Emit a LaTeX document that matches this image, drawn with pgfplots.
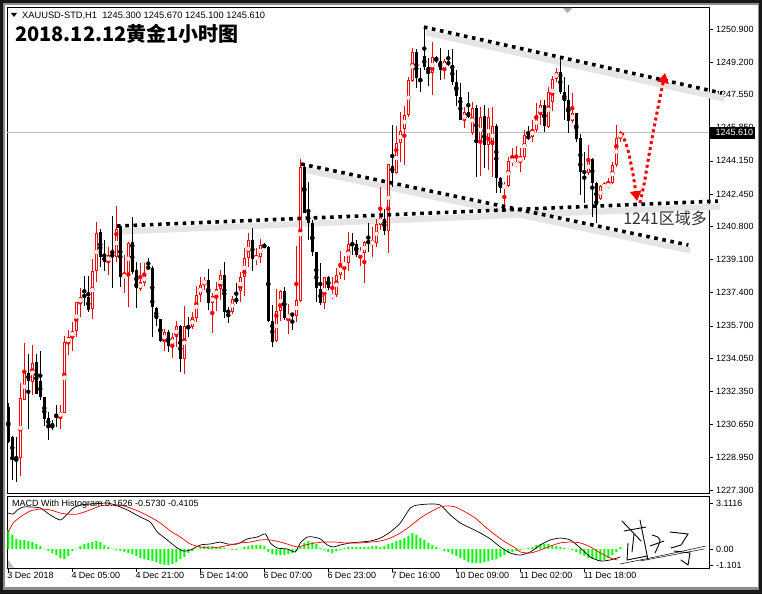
\documentclass[border=0pt]{standalone}
\usepackage{fontspec}
\setmainfont{Liberation Sans}
\newfontfamily\cjk{Noto Sans CJK SC}
\usepackage{pgfplots}
\usepackage{pgfplotstable}
\pgfplotsset{compat=1.18}
\usetikzlibrary{arrows.meta}

\newcommand\lbl{\fontsize{9}{10.5}\selectfont}

% hourly XAUUSD candles: bar index, open, high, low, close
% rising bars (close above open)
\pgfplotstableread{
i o h l c
3 1228.94 1232.78 1228.01 1232.01
4 1231.91 1234.82 1231.91 1233.29
6 1232.83 1234.72 1232.16 1233.80
13 1231.03 1231.65 1230.42 1231.29
14 1231.24 1235.18 1231.24 1234.87
15 1234.82 1235.49 1234.21 1235.13
16 1235.13 1235.90 1234.41 1235.44
17 1235.44 1236.92 1235.13 1236.92
18 1236.87 1237.64 1236.15 1237.18
21 1236.56 1239.12 1236.05 1238.51
22 1238.51 1241.02 1237.95 1240.46
25 1238.97 1239.74 1238.31 1239.33
27 1239.23 1241.84 1238.97 1240.66
29 1238.15 1239.33 1237.38 1238.36
30 1238.36 1240.00 1236.67 1239.94
33 1237.59 1238.92 1237.49 1237.95
34 1237.90 1238.92 1237.74 1238.31
39 1234.87 1235.54 1234.41 1235.39
41 1234.67 1235.34 1234.05 1235.13
42 1235.13 1235.95 1234.62 1235.69
44 1234.00 1236.72 1233.24 1235.69
46 1235.64 1236.41 1235.54 1236.15
47 1236.10 1237.74 1235.90 1237.28
48 1237.28 1238.20 1236.92 1237.79
49 1237.84 1238.20 1237.54 1238.05
51 1236.87 1237.38 1235.34 1237.23
52 1237.23 1237.95 1236.46 1237.59
53 1237.59 1238.56 1237.03 1238.31
56 1236.41 1237.23 1236.31 1237.08
58 1237.49 1238.46 1236.92 1238.20
59 1238.20 1239.69 1237.23 1239.18
60 1239.18 1240.46 1238.71 1240.10
62 1239.12 1239.69 1238.82 1239.23
63 1239.23 1240.15 1238.92 1239.84
67 1234.93 1237.59 1234.87 1236.46
68 1236.46 1237.54 1235.95 1237.49
70 1236.10 1236.82 1235.28 1236.31
72 1236.21 1239.79 1235.90 1237.03
73 1236.97 1244.24 1236.92 1243.83
79 1236.87 1238.20 1236.56 1238.20
81 1237.13 1238.20 1237.08 1237.33
82 1237.28 1238.66 1237.18 1238.31
83 1238.31 1239.53 1238.10 1238.82
84 1238.82 1239.28 1238.05 1238.92
85 1238.92 1240.51 1238.51 1239.89
88 1239.38 1239.74 1238.77 1239.53
89 1239.43 1240.05 1237.90 1239.99
91 1239.94 1240.76 1239.23 1239.99
92 1239.94 1241.17 1239.74 1240.92
93 1240.86 1242.81 1240.61 1241.28
95 1240.56 1243.99 1239.43 1243.99
97 1243.53 1245.94 1243.48 1245.06
98 1245.06 1246.65 1244.09 1245.68
99 1245.78 1246.96 1243.94 1246.50
100 1246.50 1248.44 1246.40 1248.29
101 1248.24 1249.93 1248.19 1249.72
106 1248.65 1250.24 1247.52 1249.47
109 1248.85 1249.36 1248.34 1249.26
114 1246.19 1246.91 1245.83 1246.65
116 1245.58 1247.16 1245.47 1246.86
118 1245.06 1246.91 1243.37 1246.40
120 1244.96 1246.86 1243.68 1246.40
121 1244.96 1246.91 1243.32 1245.94
124 1242.76 1243.07 1241.53 1242.91
125 1242.86 1244.35 1242.81 1244.14
126 1244.09 1244.81 1243.88 1244.24
127 1243.88 1244.91 1243.83 1244.09
128 1244.04 1244.81 1243.58 1244.40
129 1244.35 1245.73 1244.19 1245.47
131 1245.37 1246.24 1245.11 1245.78
132 1245.73 1247.11 1245.63 1246.50
133 1246.50 1247.27 1245.99 1247.01
135 1245.88 1247.93 1245.83 1247.67
136 1247.16 1248.50 1246.70 1248.34
137 1248.34 1248.90 1248.19 1248.70
141 1246.19 1247.62 1246.09 1246.60
145 1243.53 1244.96 1243.43 1244.19
148 1242.20 1242.91 1242.15 1242.86
149 1242.81 1243.07 1242.76 1242.91
150 1242.81 1243.27 1242.76 1243.02
151 1243.02 1244.09 1242.97 1243.94
152 1243.94 1245.99 1243.83 1245.32
153 1245.30 1245.67 1245.10 1245.61
}\bull

% falling bars (close at or below open)
\pgfplotstableread{
i o h l c
0 1231.55 1231.75 1229.70 1229.75
1 1230.01 1230.06 1227.81 1228.94
2 1228.94 1230.01 1227.71 1228.94
5 1233.29 1234.26 1230.42 1232.88
7 1233.85 1234.26 1232.21 1232.21
8 1232.88 1234.41 1231.91 1232.06
9 1232.06 1232.06 1230.57 1230.93
10 1230.98 1231.29 1229.86 1230.62
11 1230.62 1230.88 1230.37 1230.52
12 1231.19 1231.65 1230.52 1231.03
19 1237.28 1238.25 1236.72 1237.18
20 1237.18 1238.25 1236.41 1236.51
23 1240.51 1240.66 1238.71 1239.23
24 1239.28 1240.10 1238.51 1238.97
26 1239.38 1241.33 1237.64 1239.23
28 1240.81 1240.81 1237.69 1238.20
31 1239.99 1241.28 1238.36 1238.46
32 1238.56 1238.97 1236.61 1237.64
35 1238.76 1239.18 1238.61 1238.61
36 1238.66 1238.76 1235.13 1236.67
37 1236.61 1236.67 1235.69 1236.05
38 1236.05 1236.05 1234.87 1234.93
40 1235.39 1235.49 1234.36 1234.67
43 1235.69 1235.74 1233.34 1234.00
45 1235.64 1236.15 1235.13 1235.64
50 1238.05 1238.61 1236.51 1236.87
54 1238.31 1238.97 1236.10 1236.41
55 1236.46 1236.67 1235.85 1236.41
57 1237.13 1237.90 1236.82 1236.92
61 1240.10 1240.71 1238.51 1239.12
64 1239.84 1239.94 1239.69 1239.74
65 1239.74 1239.79 1235.90 1235.95
66 1235.95 1236.77 1234.62 1234.87
69 1237.49 1237.69 1236.00 1236.10
71 1236.31 1236.36 1235.49 1236.26
74 1243.83 1243.99 1241.48 1241.48
75 1241.48 1243.07 1240.10 1240.97
76 1240.97 1241.12 1239.28 1239.48
77 1239.48 1239.48 1236.92 1237.64
78 1237.59 1238.92 1236.77 1236.87
80 1238.20 1238.25 1237.54 1237.64
86 1239.94 1240.46 1239.33 1239.84
87 1239.89 1240.10 1239.23 1239.33
90 1239.99 1240.97 1239.48 1239.99
94 1241.17 1241.68 1240.35 1240.56
96 1243.88 1245.99 1242.81 1243.53
102 1249.72 1249.88 1247.88 1248.39
103 1248.39 1248.90 1247.67 1248.19
104 1249.52 1251.00 1248.80 1248.95
105 1248.95 1249.42 1247.98 1248.70
107 1249.47 1249.52 1249.16 1249.26
108 1249.26 1249.93 1248.29 1248.80
110 1249.26 1249.83 1249.00 1249.06
111 1249.06 1249.88 1248.03 1248.19
112 1248.19 1248.80 1246.96 1247.47
113 1247.42 1248.14 1246.24 1246.24
115 1246.65 1247.67 1246.34 1246.40
117 1246.86 1247.01 1243.32 1245.06
119 1246.45 1247.01 1243.78 1244.96
122 1245.94 1246.04 1242.50 1243.27
123 1243.27 1243.32 1242.50 1242.76
130 1245.47 1245.94 1245.22 1245.27
134 1247.01 1247.27 1245.63 1245.94
138 1248.70 1249.47 1247.57 1247.67
139 1247.67 1248.44 1246.24 1247.21
140 1247.27 1248.03 1245.58 1246.19
142 1246.60 1246.60 1245.11 1245.27
143 1245.32 1245.52 1242.40 1243.58
144 1243.63 1244.60 1241.99 1243.53
146 1244.24 1244.30 1241.28 1243.02
147 1243.02 1243.07 1240.97 1241.89
}\bear

% MACD histogram per bar
\pgfplotstableread{
i v
0 1.28
1 0.95
2 0.68
3 0.61
4 0.61
5 0.54
6 0.47
7 0.34
8 0.20
9 0.02
10 -0.14
11 -0.27
12 -0.41
13 -0.61
14 -0.68
15 -0.47
16 -0.14
17 0.02
18 0.20
19 0.34
20 0.41
21 0.47
22 0.54
23 0.47
24 0.27
25 0.14
26 0.02
27 -0.07
28 -0.14
29 -0.20
30 -0.27
31 -0.34
32 -0.47
33 -0.61
34 -0.68
35 -0.74
36 -0.81
37 -0.88
38 -1.01
39 -1.08
40 -1.08
41 -1.01
42 -0.88
43 -0.68
44 -0.54
45 -0.27
46 -0.14
47 0.02
48 0.14
49 0.20
50 0.20
51 0.20
52 0.14
53 0.14
54 0.07
55 0.02
56 -0.07
57 -0.07
58 0.02
59 0.14
60 0.20
61 0.27
62 0.27
63 0.27
64 0.20
65 -0.20
66 -0.34
67 -0.41
68 -0.41
69 -0.41
70 -0.34
71 -0.27
72 -0.14
73 0.14
74 0.41
75 0.54
76 0.47
77 0.34
78 0.07
79 -0.07
80 -0.20
81 -0.27
82 -0.14
83 -0.07
84 0.07
85 0.14
86 0.14
87 0.14
88 0.14
89 0.14
90 0.14
91 0.20
92 0.20
93 0.14
94 0.20
95 0.34
96 0.41
97 0.54
98 0.61
99 0.74
100 0.88
101 1.08
102 0.95
103 0.74
104 0.61
105 0.41
106 0.27
107 0.14
108 0.02
109 -0.14
110 -0.20
111 -0.34
112 -0.47
113 -0.61
114 -0.74
115 -0.88
116 -0.95
117 -0.95
118 -0.95
119 -0.88
120 -0.81
121 -0.74
122 -0.68
123 -0.54
124 -0.41
125 -0.27
126 -0.20
127 -0.14
128 -0.07
129 0.02
130 0.07
131 0.14
132 0.27
133 0.34
134 0.34
135 0.34
136 0.27
137 0.20
138 0.14
139 0.07
140 0.02
141 -0.07
142 -0.20
143 -0.34
144 -0.47
145 -0.61
146 -0.68
147 -0.74
148 -0.81
149 -0.74
150 -0.61
151 -0.41
152 -0.20
153 0.14
}\hist

\pgfplotsset{
  cbar/.style 2 args={color=#1, only marks, mark=none, forget plot,
    error bars/y dir=both, error bars/y explicit, error bars/error mark=none,
    error bars/error bar style={draw=#1, line width=#2}},
  tline/.style={black, line width=3.6pt, dash pattern=on 3.6pt off 4.6pt, forget plot},
  tshadow/.style={black!10, line width=6pt, forget plot},
  rarrow/.style={red, line width=3pt, dash pattern=on 3pt off 3pt, smooth,
    -{Triangle[length=10pt,width=11pt]}, forget plot},
}

\begin{document}
\begin{tikzpicture}
\useasboundingbox (0,0) rectangle (762pt,-594pt);
\begin{scope}[x=1pt,y=-1pt]
  \fill[black!90] (0,0) rectangle (762,594);
  \fill[black!45] (3,3) rectangle (759,590);
  \fill[white] (5,5) rectangle (758,587);
\end{scope}

% ---------- price panel ----------
\begin{axis}[
  at={(7pt,-7pt)}, anchor=north west, scale only axis,
  width=702pt, height=486pt,
  xmin=-0.325, xmax=175.175, ymin=1227.143, ymax=1252.027,
  axis line style={black, line width=0.8pt},
  xtick=\empty,
  ytick={1250.9,1249.2,1247.55,1245.85,1244.15,1242.45,1240.8,1239.1,1237.4,1235.7,1234.05,1232.35,1230.65,1228.95,1227.3},
  yticklabels={1250.900,1249.200,1247.550,1245.850,1244.150,1242.450,1240.800,1239.100,1237.400,1235.700,1234.050,1232.350,1230.650,1228.950,1227.300},
  ytick pos=right, yticklabel pos=right,
  tick align=outside, major tick length=4pt,
  tick style={black, line width=0.6pt},
  yticklabel style={font=\lbl, anchor=west, inner sep=0pt, xshift=3pt},
  clip=false,
]
  % current price line
  \addplot[black!25, line width=0.8pt, forget plot] coordinates {(-0.325,1245.61) (175.175,1245.61)};

  % trend line shadows
  \addplot[tshadow] coordinates {(104.4,1250.72) (178.9,1247.34)};
  \addplot[tshadow] coordinates {(73.7,1243.71) (170.5,1239.56)};
  \addplot[tshadow] coordinates {(27.7,1240.53) (177.9,1241.81)};

  % falling candles: black wick and filled body
  \addplot[cbar={black}{1pt}] table[x=i, y expr={(\thisrow{h}+\thisrow{l})/2},
    y error expr={(\thisrow{h}-\thisrow{l})/2}] {\bear};
  \addplot[cbar={black}{3.2pt}] table[x=i, y expr={(\thisrow{o}+\thisrow{c})/2},
    y error expr={max(abs(\thisrow{o}-\thisrow{c})/2,0.026)}] {\bear};
  % rising candles: red wick and hollow body
  \addplot[cbar={red}{1pt}] table[x=i, y expr={(\thisrow{h}+\thisrow{l})/2},
    y error expr={(\thisrow{h}-\thisrow{l})/2}] {\bull};
  \addplot[cbar={red}{3.4pt}] table[x=i, y expr={(\thisrow{o}+\thisrow{c})/2},
    y error expr={max((\thisrow{c}-\thisrow{o})/2,0.026)}] {\bull};
  \addplot[cbar={white}{1.1pt}] table[x=i, y expr={(\thisrow{o}+\thisrow{c})/2},
    y error expr={max((\thisrow{c}-\thisrow{o})/2-0.0512,0.0001)}] {\bull};

  % trend lines
  \addplot[tline] coordinates {(103.9,1251.0) (178.4,1247.62)};
  \addplot[tline] coordinates {(73.2,1243.99) (170,1239.84)};
  \addplot[tline] coordinates {(27.2,1240.81) (177.4,1242.09)};

  % forecast arrows
  \addplot[rarrow] coordinates {(153.4,1245.58) (154.9,1244.71) (156.2,1243.43) (157.2,1242.09)};
  \addplot[rarrow] coordinates {(157.9,1241.99) (158.9,1242.91) (160.4,1244.71) (162.2,1246.65) (164.2,1248.65)};

  \node[anchor=west, inner sep=0pt, text=black!80] at (axis cs:153.7,1241.22)
    {\cjk\fontsize{16}{18}\selectfont 1241区域多};
\end{axis}

% ---------- MACD panel ----------
\begin{axis}[
  at={(7pt,-496pt)}, anchor=north west, scale only axis,
  width=702pt, height=72pt,
  xmin=-0.325, xmax=175.175, ymin=-1.284, ymax=3.581,
  axis line style={black, line width=0.8pt},
  xtick={0,16,32,48,64,80,96,112,128,144},
  xticklabels={3 Dec 2018,4 Dec 05:00,4 Dec 21:00,5 Dec 14:00,6 Dec 07:00,6 Dec 23:00,7 Dec 16:00,10 Dec 09:00,11 Dec 02:00,11 Dec 18:00},
  xtick pos=bottom,
  ytick={3.1116,0,-1.101},
  yticklabels={3.1116,0.00,-1.101},
  ytick pos=right, yticklabel pos=right,
  tick align=outside, major tick length=4pt,
  tick style={black, line width=0.6pt},
  xticklabel style={font=\lbl, anchor=north west, inner sep=0pt, xshift=-1pt},
  yticklabel style={font=\lbl, anchor=west, inner sep=0pt, xshift=3pt},
]
  \addplot[ybar, bar width=2pt, fill=green, draw=none, forget plot] table[x=i, y=v] {\hist};
  \addplot[black, line width=0.7pt, smooth, tension=0.4, forget plot] coordinates {
    (0,2.43) (1.25,2.36) (2.25,2.64) (3.75,2.84) (5.5,2.84) (8,2.77) (10.5,2.30) (13,1.96)
    (14.75,2.36) (16.25,2.77) (18,2.97) (20.5,3.04) (23,3.08) (24.75,3.11) (26.75,2.97)
    (29.75,2.64) (33,2.16) (35.5,1.82) (37.25,1.15) (39.75,0.61) (42.25,0.07) (43.75,-0.14)
    (45.5,-0.07) (48,0.27) (50.5,0.34) (53,0.47) (54.75,0.34) (57.25,0.34) (59.75,0.68)
    (62.25,0.81) (64.25,1.01) (65.5,0.41) (67.25,0.07) (69.75,0) (71.75,-0.20) (73,0.41)
    (74.75,0.81) (76.25,0.81) (78,0.68) (79.75,0.27) (81.25,0.14) (83,0.27) (85.5,0.41)
    (88,0.47) (90.5,0.54) (93,0.74) (95.5,1.15) (98,1.76) (100.5,2.77) (102.25,2.97)
    (105.5,3.04) (108,2.97) (110.5,2.30) (113,1.76) (115.5,1.42) (118,1.08) (120.5,0.68)
    (123,0.14) (125.5,-0.27) (128,-0.41) (130.5,-0.20) (133,0.27) (135.5,0.61) (138,0.74)
    (140.5,0.61) (143,0.07) (145.5,-0.54) (148,-0.81) (150.5,-0.74) (153,-0.54)};
  \addplot[red, line width=0.7pt, smooth, tension=0.4, forget plot] coordinates {
    (0,1.15) (1.25,1.76) (3,2.16) (5.5,2.57) (8,2.70) (10.5,2.64) (13,2.43) (14.75,2.36)
    (17.25,2.36) (19.75,2.57) (23,2.91) (25.5,2.97) (28,2.97) (30.5,2.77) (33,2.50)
    (35.5,2.16) (38,1.76) (40.5,1.22) (43,0.81) (45.5,0.34) (48,0.14) (50.5,0.07) (53,0.14)
    (55.5,0.27) (58,0.41) (60.5,0.47) (63,0.61) (65.5,0.61) (68,0.47) (70.5,0.27)
    (72.25,0.14) (74.25,0.27) (76.75,0.41) (79.25,0.47) (81.75,0.47) (84.25,0.41) (88,0.41)
    (90.5,0.47) (93,0.54) (95.5,0.74) (98,1.08) (100.5,1.55) (103,2.09) (105.5,2.50)
    (108,2.84) (109.75,2.91) (111.75,2.84) (114.25,2.50) (116.75,2.09) (119.25,1.49)
    (121.75,0.95) (124.25,0.47) (126.75,0.07) (128,-0.20) (130.5,-0.27) (133,-0.07)
    (135.5,0.20) (138,0.41) (140.5,0.47) (143,0.41) (145.5,0.14) (148,-0.27) (150.5,-0.61)
    (152.25,-0.74)};
  \node[anchor=west, inner sep=0pt, font=\lbl] at (rel axis cs:0.007,0.89)
    {MACD With Histogram 0.1626 -0.5730 -0.4105};
\end{axis}

% ---------- overlays in pixel coordinates ----------
\begin{scope}[x=1pt,y=-1pt]
  % header
  \fill[black] (11,13) -- (17,13) -- (14,17) -- cycle;
  \node[anchor=west, inner sep=0pt, font=\fontsize{9.3}{10.5}\selectfont] at (22,15.5)
    {XAUUSD-STD,H1\ \ 1245.300 1245.670 1245.100 1245.610};
  \node[anchor=west, inner sep=0pt] at (15,34)
    {\cjk\bfseries\fontsize{20}{22}\selectfont 2018.12.12黄金1小时图};
  % chart shift marker
  \fill[black!35] (563,8) -- (572,8) -- (567.5,13) -- cycle;
  \fill[black!25] (8,560) -- (8,567.5) -- (14,567.5) -- cycle;
  % current price tag
  \fill[black] (710,126.5) rectangle (755,138.5);
  \node[anchor=west, inner sep=0pt, font=\lbl, text=white] at (715.5,132.5) {1245.610};
  % signature
  \begin{scope}[line width=0.9pt, line cap=round]
    \draw (622,521) -- (641,541);
    \draw (624,531) -- (646,527);
    \draw (628,543) -- (627,560) -- (647,556);
    \draw (634,534) -- (632,552);
    \draw (640,520) .. controls (643,535) .. (648,560);
    \draw (652,535) .. controls (662,538) .. (655,553);
    \draw (650,546) -- (664,541);
    \draw (670,532) -- (688,534) -- (681,545) -- (671,548);
    \draw (674,551) -- (690,553) -- (688,565) -- (681,560);
    \draw[line width=0.5pt] (620,564) .. controls (660,556) .. (706,546);
    \draw[line width=0.5pt] (640,561) -- (704,549);
  \end{scope}
\end{scope}
\end{tikzpicture}
\end{document}
